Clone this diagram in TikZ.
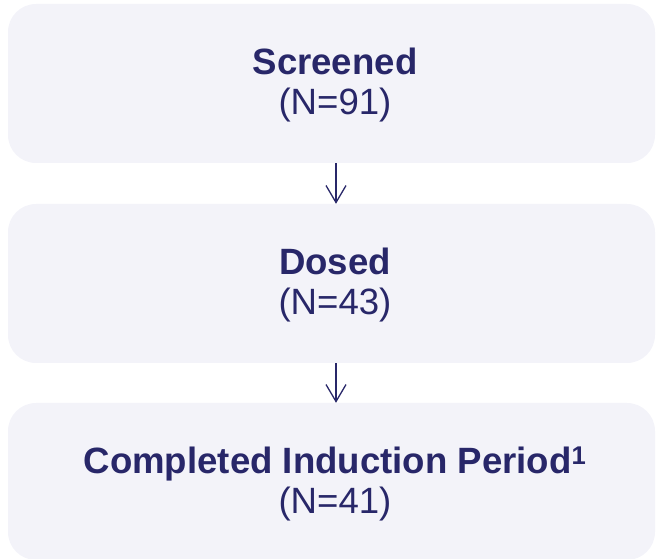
\documentclass[tikz,border=0pt]{standalone}
\usepackage{fontspec}
\setmainfont{Liberation Sans}
\usetikzlibrary{arrows.meta}
\definecolor{navy}{RGB}{40,39,105}
\definecolor{boxfill}{RGB}{243,243,249}
\begin{document}
\begin{tikzpicture}[x=1pt,y=1pt,
  box/.style={draw=none,fill=boxfill,rounded corners=28pt,minimum width=647pt,minimum height=159pt,inner sep=0pt},
  ttl/.style={anchor=base,text=navy,font=\fontsize{36.6}{40}\selectfont\bfseries,inner sep=0pt},
  cnt/.style={anchor=base,text=navy,font=\fontsize{36.6}{40}\selectfont,inner sep=0pt},
  arr/.style={draw=navy,line width=1.3pt,-{Straight Barb[length=17pt,width=20pt,line width=1.3pt]}}]
\useasboundingbox (0,0) rectangle (656,559);
\node[box] (b1) at (331.5,475.5) {};
\node[box] (b2) at (331.5,275.5) {};
\node[box,minimum height=157pt] (b3) at (331.5,77.5) {};
\node[ttl] (t1) at (335,484) {Screened};
\node[cnt] (n1) at (335,444) {(N=91)};
\node[ttl] (t2) at (335,284) {Dosed};
\node[cnt] (n2) at (335,244) {(N=43)};
\node[ttl] (t3) at (335,85) {Completed Induction Period\textsuperscript{1}};
\node[cnt] (n3) at (335,45) {(N=41)};
\draw[arr] ([xshift=4.5pt]b1.south) -- ([xshift=4.5pt]b2.north);
\draw[arr] ([xshift=4.5pt]b2.south) -- ([xshift=4.5pt]b3.north);
\end{tikzpicture}
\end{document}
